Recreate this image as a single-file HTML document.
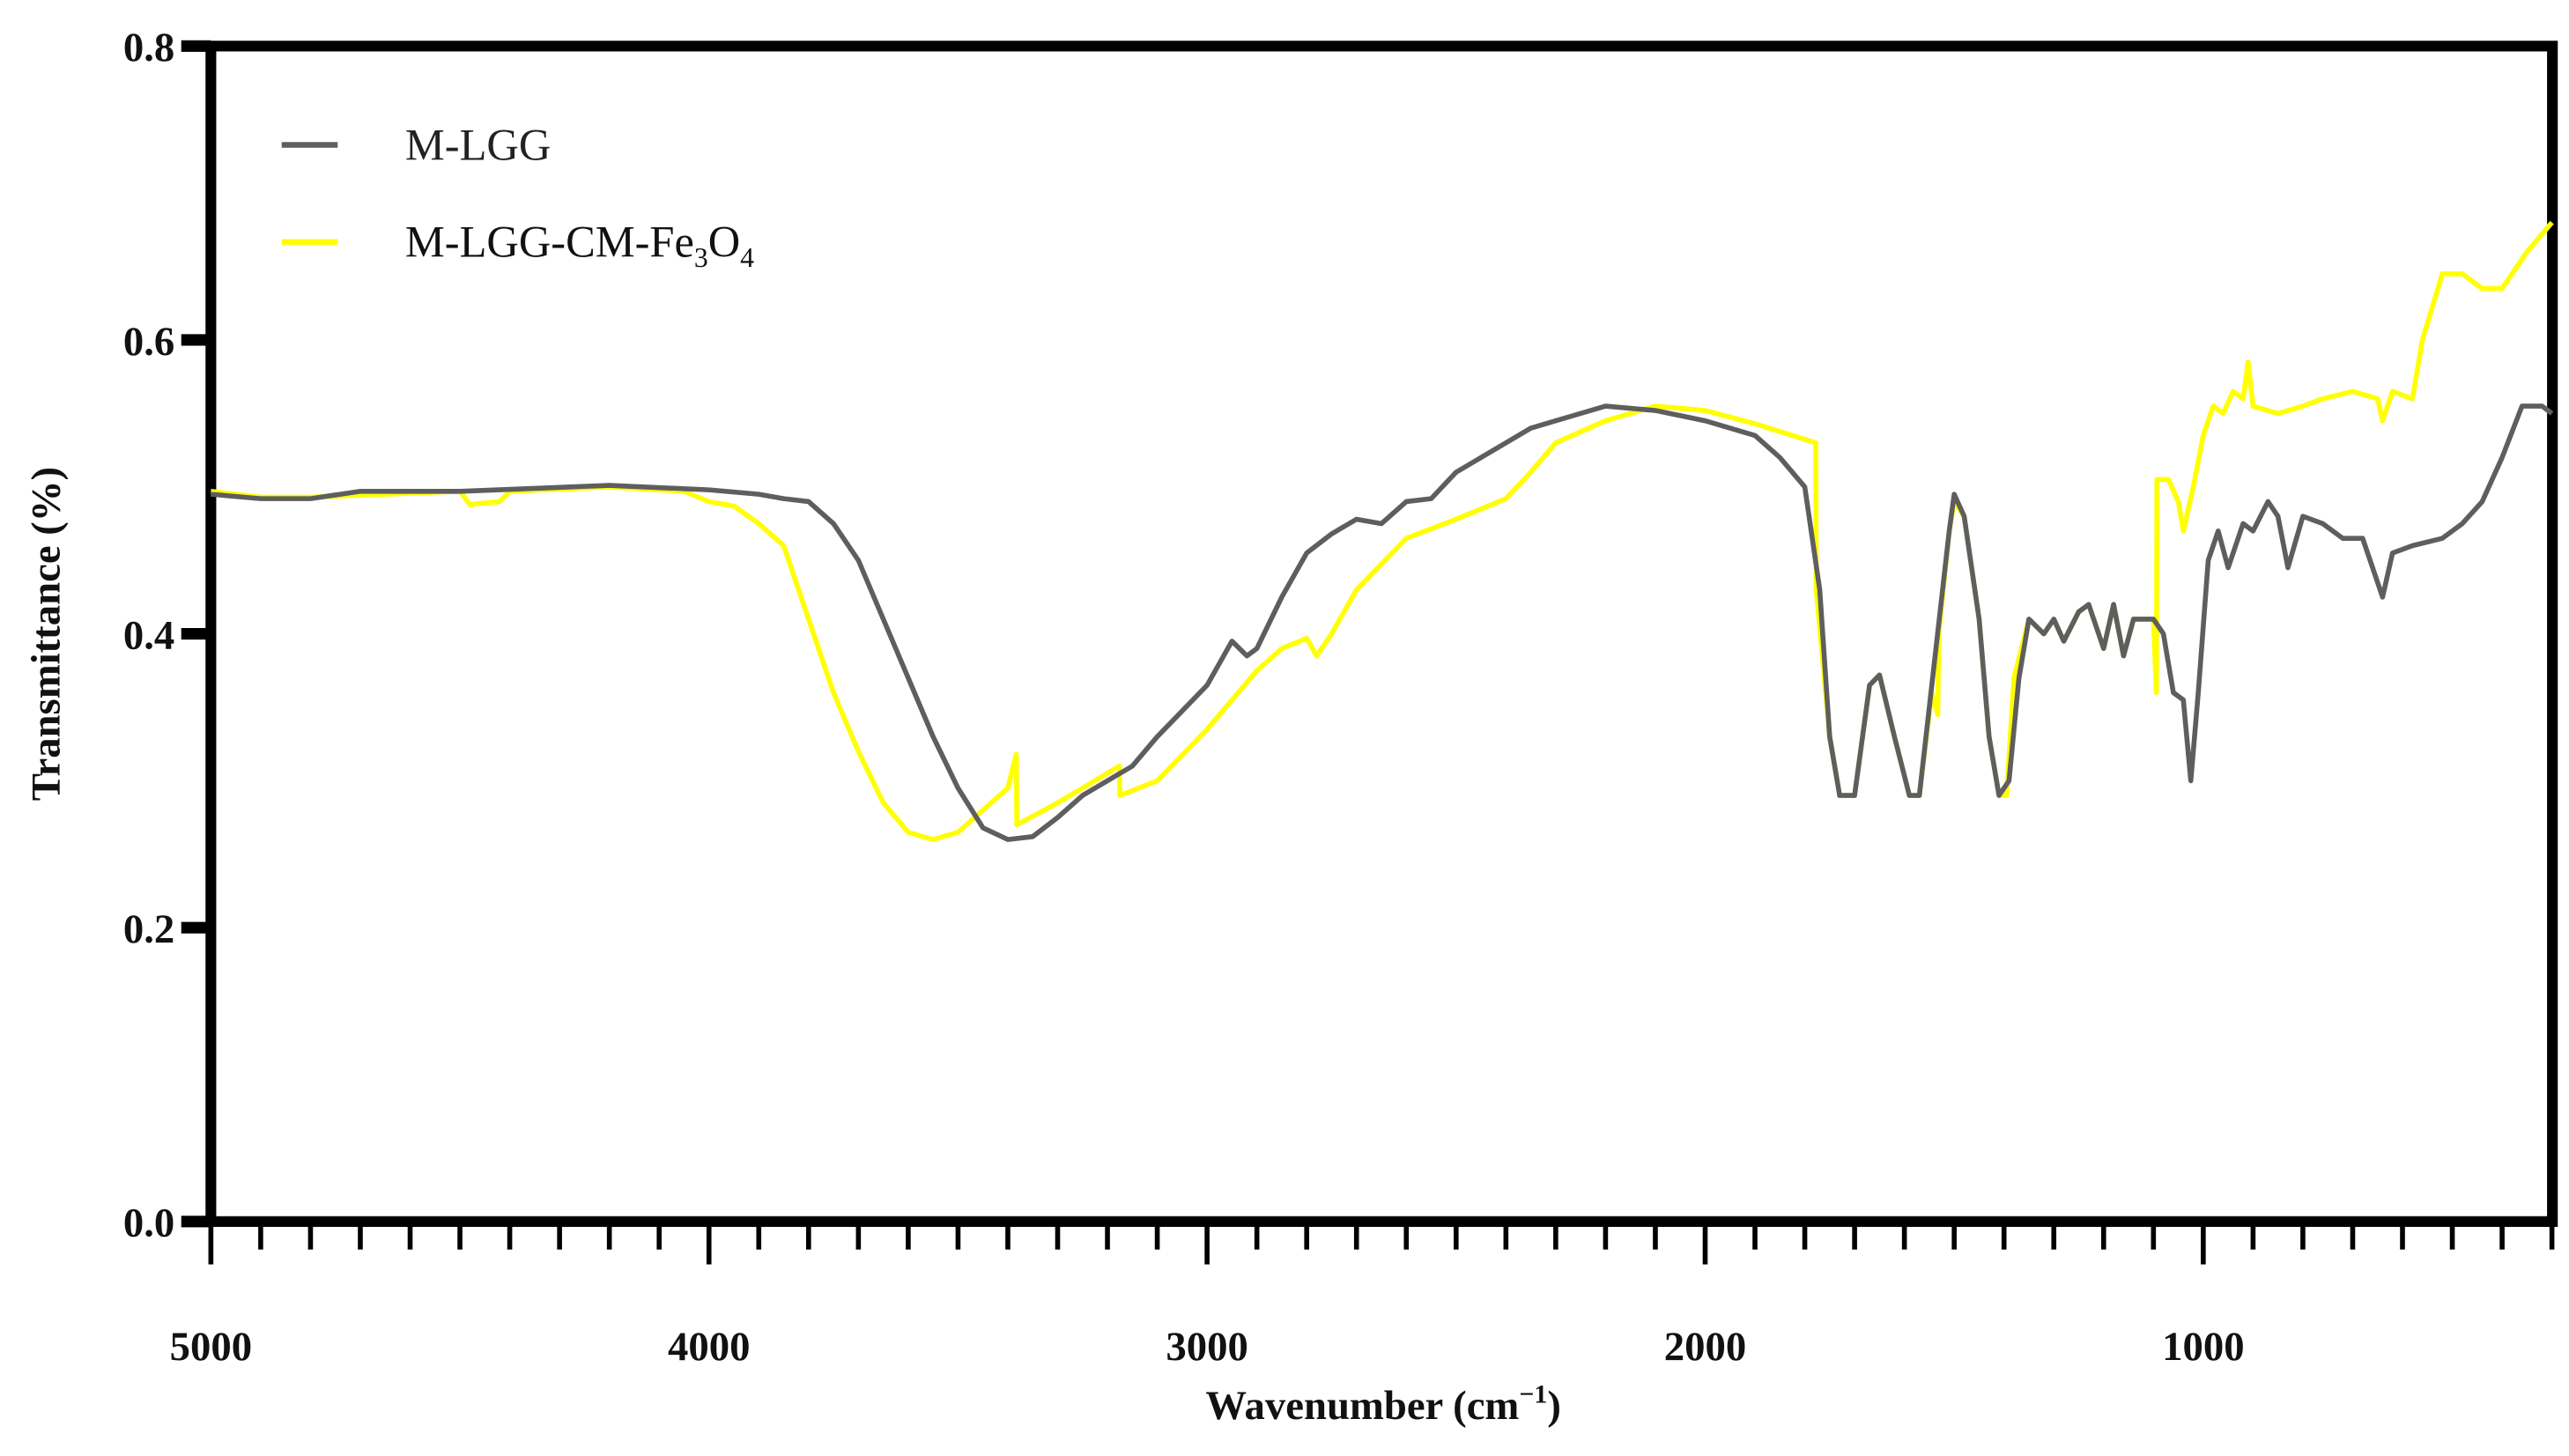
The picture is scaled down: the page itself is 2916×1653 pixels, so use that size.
<!DOCTYPE html>
<html><head><meta charset="utf-8"><style>html,body{margin:0;padding:0;background:#fff}svg{display:block}</style></head>
<body>
<svg id="chart" width="2916" height="1653" viewBox="0 0 1560 884.4" xmlns="http://www.w3.org/2000/svg" font-family="'Liberation Serif', serif">
<g id="axes"></g>
<g id="series"></g>
<g id="legend">
  <line x1="171" y1="88" x2="205" y2="88" stroke="#606060" stroke-width="3.5"/>
  <text x="246" y="97" font-size="27" fill="#222">M-LGG</text>
  <line x1="171" y1="147" x2="205" y2="147" stroke="#ffff00" stroke-width="3.5"/>
  <text x="246" y="156" font-size="27" fill="#111">M-LGG-CM-Fe<tspan font-size="17" dy="6">3</tspan><tspan dy="-6">O</tspan><tspan font-size="17" dy="6">4</tspan></text>
</g>
<text x="840" y="862" font-size="25" font-weight="bold" text-anchor="middle" fill="#111">Wavenumber (cm<tspan font-size="16" dy="-10">−1</tspan><tspan dy="10">)</tspan></text>
<text transform="translate(36,385) rotate(-90)" font-size="25" font-weight="bold" text-anchor="middle" fill="#111">Transmittance (%)</text>
<script>
const xTicks = [5000, 4000, 3000, 2000, 1000];
const yTicks = [0.0, 0.2, 0.4, 0.6, 0.8];
const wnGray = [5000,4900,4800,4700,4500,4200,4000,3900,3850,3800,3750,3700,3650,3600,3550,3500,3450,3400,3350,3300,3250,3150,3100,3000,2950,2920,2900,2850,2800,2750,2700,2650,2600,2550,2500,2400,2350,2300,2200,2100,2000,1900,1850,1800,1770,1750,1730,1700,1670,1650,1620,1590,1570,1540,1510,1500,1480,1450,1430,1410,1390,1370,1350,1320,1300,1280,1250,1230,1200,1180,1160,1140,1100,1080,1060,1040,1025,1010,990,970,950,920,900,870,850,830,800,760,720,680,640,620,580,520,480,440,400,360,320,300];
const tGray = [0.495,0.492,0.492,0.497,0.497,0.501,0.498,0.495,0.492,0.49,0.475,0.45,0.41,0.37,0.33,0.295,0.268,0.26,0.262,0.275,0.29,0.31,0.33,0.365,0.395,0.385,0.39,0.425,0.455,0.468,0.478,0.475,0.49,0.492,0.51,0.53,0.54,0.545,0.555,0.552,0.545,0.535,0.52,0.5,0.43,0.33,0.29,0.29,0.365,0.372,0.33,0.29,0.29,0.38,0.47,0.495,0.48,0.41,0.33,0.29,0.3,0.37,0.41,0.4,0.41,0.395,0.415,0.42,0.39,0.42,0.385,0.41,0.41,0.4,0.36,0.355,0.3,0.36,0.45,0.47,0.445,0.475,0.47,0.49,0.48,0.445,0.48,0.475,0.465,0.465,0.425,0.455,0.46,0.465,0.475,0.49,0.52,0.555,0.555,0.55];
const wnYellow = [5000,4900,4800,4500,4480,4420,4400,4200,4050,4000,3950,3900,3850,3800,3750,3700,3650,3600,3550,3500,3450,3400,3383,3382,3300,3250,3176,3175,3100,3000,2900,2850,2800,2780,2750,2700,2600,2500,2450,2400,2350,2300,2200,2100,2000,1900,1778,1777,1750,1730,1700,1670,1650,1620,1590,1570,1545,1533,1531,1510,1500,1480,1450,1430,1410,1395,1380,1350,1320,1300,1280,1250,1230,1200,1180,1160,1140,1100,1094,1093,1070,1050,1040,1020,1000,980,960,940,920,910,900,850,800,760,700,650,640,620,580,560,520,480,440,400,350,300];
const tYellow = [0.497,0.493,0.493,0.497,0.488,0.49,0.497,0.5,0.497,0.49,0.487,0.475,0.46,0.41,0.36,0.32,0.285,0.265,0.26,0.265,0.28,0.295,0.318,0.27,0.285,0.295,0.31,0.29,0.3,0.335,0.375,0.39,0.397,0.385,0.4,0.43,0.465,0.478,0.485,0.492,0.51,0.53,0.545,0.555,0.552,0.543,0.53,0.43,0.33,0.29,0.29,0.365,0.372,0.33,0.29,0.29,0.36,0.345,0.4,0.47,0.49,0.48,0.41,0.33,0.29,0.29,0.37,0.41,0.4,0.41,0.395,0.415,0.42,0.39,0.42,0.385,0.41,0.41,0.36,0.505,0.505,0.49,0.47,0.5,0.535,0.555,0.55,0.565,0.56,0.585,0.555,0.55,0.555,0.56,0.565,0.56,0.545,0.565,0.56,0.6,0.645,0.645,0.635,0.635,0.66,0.68];

const NS = 'http://www.w3.org/2000/svg';
const L = 128, R = 1550, T = 28, B = 742, XMAX = 5000, XMIN = 299, YMAX = 0.8;
const sx = w => L + (XMAX - w) / (XMAX - XMIN) * (R - L);
const sy = v => B - v / YMAX * (B - T);
function mk(tag, attrs, parent) { const e = document.createElementNS(NS, tag); for (const k in attrs) e.setAttribute(k, attrs[k]); parent.appendChild(e); return e; }
const axes = document.getElementById('axes');
const series = document.getElementById('series');

let frame = mk('rect', {x: L, y: T, width: R - L, height: B - T, fill: 'none', stroke: '#000', 'stroke-width': 6.5}, axes);



for (let w = 5000; w >= 300; w -= 100) {
  const major = w % 1000 === 0;
  const t = mk('line', {x1: sx(w), y1: B, x2: sx(w), y2: B + (major ? 26 : 17), stroke: '#000', 'stroke-width': 3}, axes);
  
  
}
xTicks.forEach(w => {
  const t = mk('text', {x: sx(w), y: 826, 'font-size': 25, 'font-weight': 'bold', 'text-anchor': 'middle', fill: '#111'}, axes);
  t.textContent = String(w);
  
  
});
yTicks.forEach(v => {
  const tk = mk('line', {x1: L - 18, y1: sy(v), x2: L, y2: sy(v), stroke: '#000', 'stroke-width': 7}, axes);
  
  
  const t = mk('text', {x: L - 22, y: sy(v) + 9, 'font-size': 25, 'font-weight': 'bold', 'text-anchor': 'end', fill: '#111'}, axes);
  t.textContent = v.toFixed(1);
  
  
});
function pathFor(ws, ts) { return ws.map((w, i) => (i ? 'L' : 'M') + sx(w).toFixed(2) + ',' + sy(ts[i]).toFixed(2)).join(' '); }
const py = mk('path', {d: pathFor(wnYellow, tYellow), fill: 'none', stroke: '#ffff00', 'stroke-width': 3, 'stroke-linejoin': 'round'}, series);


const pg = mk('path', {d: pathFor(wnGray, tGray), fill: 'none', stroke: '#5e5e5e', 'stroke-width': 3, 'stroke-linejoin': 'round'}, series);


</script>
</svg>
</body></html>
